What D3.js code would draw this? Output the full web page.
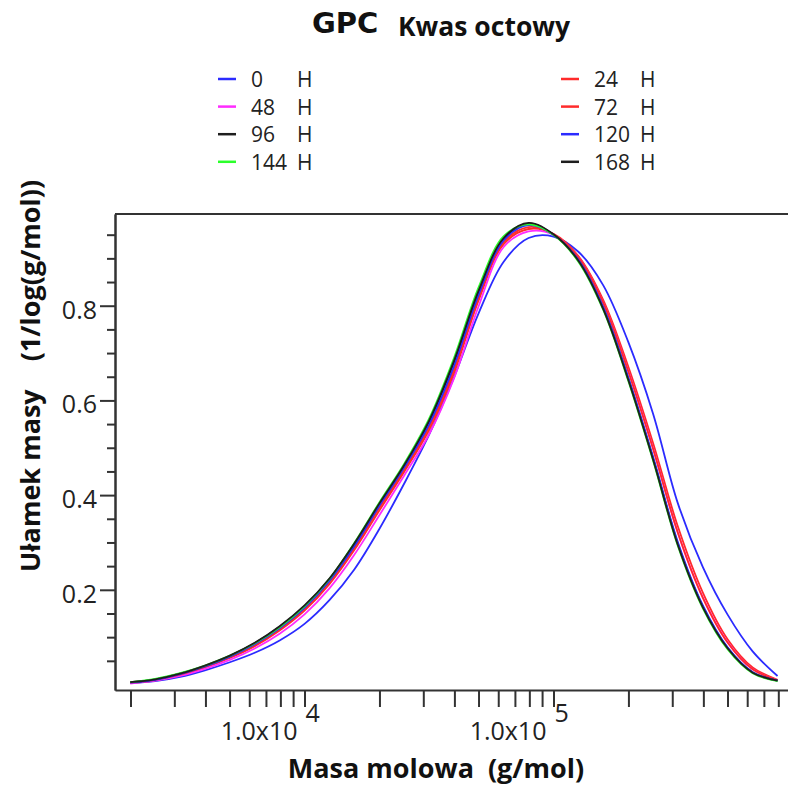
<!DOCTYPE html>
<html lang="pl">
<head>
<meta charset="UTF-8">
<title>GPC Kwas octowy</title>
<script src="https://d3js.org/d3.v7.min.js"></script>
<style>
html, body { margin: 0; padding: 0; background: white; }
body { font-family: 'Open Sans', sans-serif; }
.title { font-weight: bold; fill: #111; }
.legend text { font-size: 21px; fill: #222; }
.axis text { font-family: 'Open Sans', sans-serif; font-size: 25px; fill: #222; }
.axis path, .axis line { stroke: #333; stroke-width: 2px; }
.axis-title { font-weight: bold; font-size: 27px; fill: #111; white-space: pre; }
.curve { fill: none; stroke-width: 1.8px; }
</style>
</head>
<body>
<div id="chart"></div>
<script>

// ---------------- data ----------------

// log10 of molar mass (g/mol)
const logMass = [3.3, 3.4, 3.5, 3.6, 3.7, 3.8, 3.9, 4.0, 4.1, 4.2, 4.3, 4.4, 4.5, 4.6,
                 4.7, 4.8, 4.9, 5.0, 5.1, 5.2, 5.3, 5.4, 5.5, 5.6, 5.7, 5.8, 5.9];

const h0   = [0.003, 0.007, 0.016, 0.030, 0.047, 0.067, 0.093, 0.128, 0.178, 0.243, 0.328, 0.424, 0.527, 0.648,
              0.785, 0.893, 0.943, 0.946, 0.914, 0.843, 0.724, 0.572, 0.382, 0.248, 0.147, 0.070, 0.018];
const h24  = [0.003, 0.009, 0.020, 0.036, 0.056, 0.081, 0.114, 0.156, 0.212, 0.284, 0.367, 0.449, 0.537, 0.657,
              0.812, 0.930, 0.962, 0.952, 0.905, 0.812, 0.672, 0.510, 0.333, 0.194, 0.095, 0.036, 0.010];
const h48  = [0.002, 0.008, 0.018, 0.033, 0.052, 0.076, 0.107, 0.148, 0.203, 0.274, 0.357, 0.441, 0.528, 0.646,
              0.800, 0.924, 0.957, 0.950, 0.902, 0.806, 0.663, 0.499, 0.320, 0.184, 0.089, 0.032, 0.009];
const h72  = [0.004, 0.010, 0.021, 0.037, 0.058, 0.084, 0.117, 0.160, 0.217, 0.289, 0.373, 0.453, 0.543, 0.664,
              0.818, 0.934, 0.966, 0.951, 0.902, 0.806, 0.662, 0.498, 0.320, 0.183, 0.088, 0.032, 0.009];
const h96  = [0.005, 0.011, 0.023, 0.039, 0.060, 0.087, 0.122, 0.165, 0.222, 0.297, 0.381, 0.462, 0.555, 0.680,
              0.830, 0.941, 0.973, 0.950, 0.896, 0.795, 0.647, 0.478, 0.297, 0.165, 0.077, 0.026, 0.008];
const h120 = [0.004, 0.010, 0.022, 0.038, 0.059, 0.085, 0.119, 0.162, 0.219, 0.292, 0.377, 0.458, 0.549, 0.672,
              0.824, 0.938, 0.970, 0.950, 0.897, 0.797, 0.649, 0.481, 0.300, 0.167, 0.078, 0.026, 0.008];
const h144 = [0.005, 0.012, 0.024, 0.040, 0.061, 0.087, 0.121, 0.165, 0.223, 0.299, 0.384, 0.466, 0.561, 0.689,
              0.840, 0.947, 0.972, 0.950, 0.893, 0.791, 0.642, 0.473, 0.292, 0.161, 0.074, 0.024, 0.007];
const h168 = [0.005, 0.011, 0.023, 0.040, 0.061, 0.088, 0.123, 0.167, 0.224, 0.298, 0.382, 0.463, 0.557, 0.683,
              0.833, 0.943, 0.975, 0.951, 0.895, 0.793, 0.644, 0.475, 0.294, 0.163, 0.076, 0.025, 0.008];

const seriesNames  = ["0", "24", "48", "72", "96", "120", "144", "168"];
const seriesValues = [h0, h24, h48, h72, h96, h120, h144, h168];
const seriesColors = ["#2b2bff", "#ff2b2b", "#ff2bff", "#ff2b2b", "#1e1e1e", "#2b2bff", "#2bff2b", "#1e1e1e"];

// axis ticks
const yMajorTicks = [0.2, 0.4, 0.6, 0.8];
const yMinorTicks = [0.05, 0.1, 0.15, 0.25, 0.3, 0.35, 0.45, 0.5, 0.55, 0.65, 0.7, 0.75, 0.85, 0.9, 0.95];
const xTicks = [2e3, 3e3, 4e3, 5e3, 6e3, 7e3, 8e3, 9e3, 1e4,
                2e4, 3e4, 4e4, 5e4, 6e4, 7e4, 8e4, 9e4, 1e5,
                2e5, 3e5, 4e5, 5e5, 6e5, 7e5, 8e5];
const xLabelTicks = [1e4, 1e5];
const xLabelExp = ["4", "5"];

// ---------------- layout ----------------

const W = 788, H = 788;
const plot = {left: 115, right: 788, top: 214, bottom: 690};

const svg = d3.select("#chart").append("svg")
  .attr("width", W)
  .attr("height", H);

// scales
const x = d3.scaleLog()
  .domain([1733, 875000])
  .range([plot.left, plot.right]);

const y = d3.scaleLinear()
  .domain([-0.0116, 0.9937])
  .range([plot.bottom, plot.top]);

// ---------------- title ----------------

svg.append("text").attr("class", "title")
  .attr("x", 312).attr("y", 33)
  .style("font-family", "'DejaVu Sans', sans-serif")
  .style("font-size", "29px")
  .text("GPC");

svg.append("text").attr("class", "title")
  .attr("x", 398).attr("y", 36)
  .style("font-size", "26.5px")
  .text("Kwas octowy");

// ---------------- legend ----------------

const legend = svg.append("g").attr("class", "legend");
// left column: 0,48,96,144 ; right column: 24,72,120,168
const legendOrder = [0, 2, 4, 6, 1, 3, 5, 7];
legendOrder.forEach((si, k) => {
  const col = k < 4 ? 0 : 1;
  const row = k % 4;
  const lx = col === 0 ? 218 : 561;
  const ly = 79 + row * 27.6;
  const g = legend.append("g");
  g.append("line")
    .attr("x1", lx).attr("x2", lx + 18)
    .attr("y1", ly).attr("y2", ly)
    .attr("stroke", seriesColors[si])
    .attr("stroke-width", 2.5);
  g.append("text")
    .attr("x", lx + 33).attr("y", ly + 8)
    .text(seriesNames[si]);
  g.append("text")
    .attr("x", lx + 79).attr("y", ly + 8)
    .text("H");
});

// ---------------- curves ----------------

svg.append("clipPath").attr("id", "plot-clip")
  .append("rect")
  .attr("x", plot.left).attr("y", plot.top)
  .attr("width", plot.right - plot.left)
  .attr("height", plot.bottom - plot.top);

const line = d3.line()
  .curve(d3.curveCatmullRom.alpha(0.5))
  .x((d, i) => x(Math.pow(10, logMass[i])))
  .y(d => y(d));

svg.append("g")
  .attr("clip-path", "url(#plot-clip)")
  .selectAll("path")
  .data(seriesValues)
  .join("path")
  .attr("class", "curve")
  .attr("stroke", (d, i) => seriesColors[i])
  .attr("d", line);

// ---------------- axes ----------------

// top frame line
svg.append("line")
  .attr("x1", plot.left).attr("x2", plot.right)
  .attr("y1", plot.top).attr("y2", plot.top)
  .attr("stroke", "#333").attr("stroke-width", 2);

// y axis
svg.append("g")
  .attr("class", "axis")
  .attr("transform", `translate(${plot.left},0)`)
  .call(d3.axisLeft(y).tickValues(yMinorTicks).tickSize(8).tickSizeOuter(0).tickFormat(""));

const yMajor = svg.append("g")
  .attr("class", "axis")
  .attr("transform", `translate(${plot.left},0)`)
  .call(d3.axisLeft(y).tickValues(yMajorTicks).tickSize(15).tickSizeOuter(0).tickPadding(3)
        .tickFormat(d3.format(".1f")));
yMajor.selectAll("text").attr("dy", "0.5em");

// x axis
svg.append("g")
  .attr("class", "axis")
  .attr("transform", `translate(0,${plot.bottom})`)
  .call(d3.axisBottom(x).tickValues(xTicks).tickSize(17).tickSizeOuter(0).tickFormat(""));

const xLab = svg.append("g").attr("class", "axis");
xLabelTicks.forEach((v, i) => {
  xLab.append("text")
    .attr("x", x(v) - 7).attr("y", 740)
    .attr("text-anchor", "end")
    .text("1.0x10");
  xLab.append("text")
    .attr("x", x(v) + 1).attr("y", 722)
    .text(xLabelExp[i]);
});

// axis titles
svg.append("text").attr("class", "axis-title")
  .attr("x", 436).attr("y", 778)
  .attr("text-anchor", "middle")
  .text("Masa molowa  (g/mol)");

svg.append("text").attr("class", "axis-title")
  .attr("transform", "translate(40,376) rotate(-90)")
  .attr("text-anchor", "middle")
  .text("Ułamek masy    (1/log(g/mol))");

</script>
</body>
</html>
